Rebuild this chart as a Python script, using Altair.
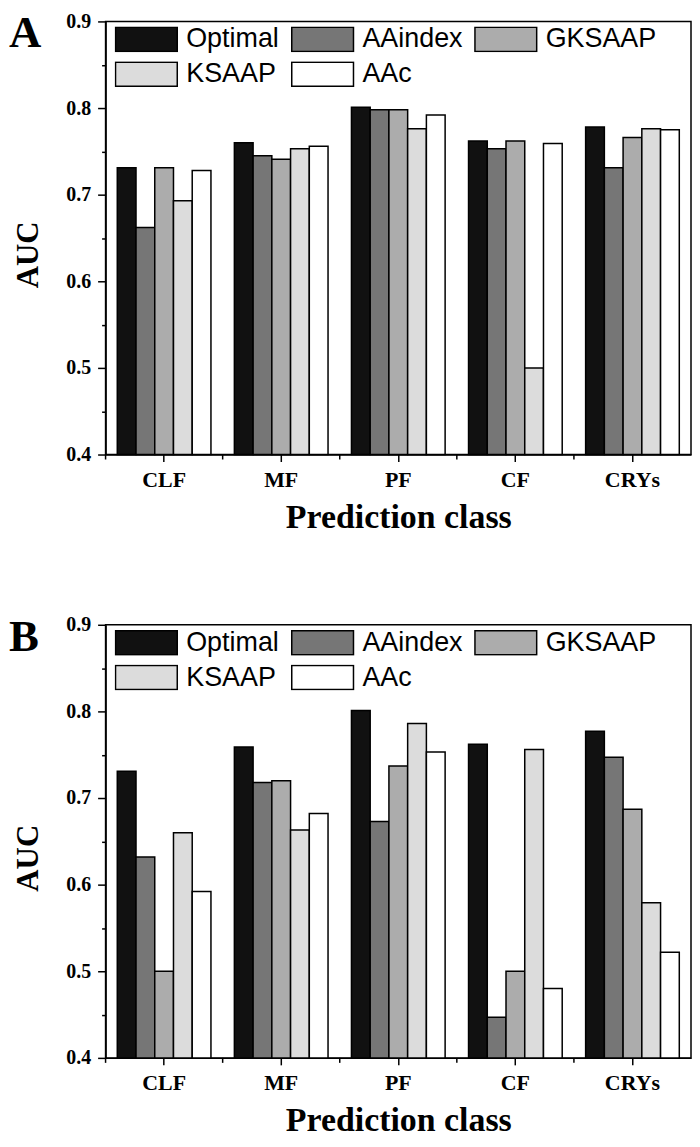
import altair as alt
import pandas as pd

classes = ["CLF", "MF", "PF", "CF", "CRYs"]
methods = ["Optimal", "AAindex", "GKSAAP", "KSAAP", "AAc"]
colors = ["#111111", "#767676", "#acacac", "#dcdcdc", "#ffffff"]

# Panel A values (per method, in class order)
a_optimal = [0.731, 0.760, 0.801, 0.762, 0.778]
a_aaindex = [0.662, 0.745, 0.798, 0.753, 0.731]
a_gksaap = [0.731, 0.741, 0.798, 0.762, 0.766]
a_ksaap = [0.693, 0.753, 0.776, 0.500, 0.776]
a_aac = [0.728, 0.756, 0.792, 0.759, 0.775]

# Panel B values
b_optimal = [0.731, 0.759, 0.801, 0.762, 0.777]
b_aaindex = [0.632, 0.718, 0.673, 0.447, 0.747]
b_gksaap = [0.500, 0.720, 0.737, 0.500, 0.687]
b_ksaap = [0.660, 0.663, 0.786, 0.756, 0.579]
b_aac = [0.592, 0.682, 0.753, 0.480, 0.522]

y_tick_values = [0.4, 0.45, 0.5, 0.55, 0.6, 0.65, 0.7, 0.75, 0.8, 0.85, 0.9]
panel_letters = ["A", "B"]

W, H = 588, 435
SERIF = "Liberation Serif"
SANS = "Liberation Sans"
MAJOR = "abs(datum.value*10 - round(datum.value*10)) < 0.001"


def make_df(series_list):
    rows = []
    for m, series in zip(methods, series_list):
        for c, v in zip(classes, series):
            rows.append({"cls": c, "method": m, "auc": v})
    return pd.DataFrame(rows)


def panel(series_list, letter):
    df = make_df(series_list)
    x_axis = alt.Axis(
        title="Prediction class", labelAngle=0, labelFontSize=22, titleFontSize=34,
        tickSize=7, labelPadding=8, titlePadding=10,
    )
    x_scale = alt.Scale(paddingInner=0, paddingOuter=0)
    bars = alt.Chart(df).mark_bar(stroke="black", strokeWidth=1.5).encode(
        x=alt.X("cls:N", sort=classes, scale=x_scale, axis=x_axis),
        xOffset=alt.XOffset("method:N", sort=methods,
                            scale=alt.Scale(paddingInner=0, paddingOuter=0.625)),
        y=alt.Y("auc:Q", scale=alt.Scale(domain=[0.4, 0.9], zero=False, nice=False),
                axis=alt.Axis(
                    title="AUC", values=y_tick_values,
                    labelExpr=MAJOR + " ? format(datum.value, '.1f') : ''",
                    tickSize={"condition": {"test": MAJOR, "value": 8}, "value": 4},
                    labelFontSize=20, labelPadding=7, titleFontSize=31,
                    titleX=-77, titleY=234, titleBaseline="middle",
                )),
        y2=alt.datum(0.4),
        color=alt.Color("method:N", sort=methods,
                        scale=alt.Scale(domain=methods, range=colors),
                        legend=alt.Legend(
                            title=None, orient="none", legendX=9, legendY=5, columns=3,
                            direction="horizontal",
                            symbolType="M-1,-0.39H1V0.39H-1Z", symbolSize=3844,
                            symbolStrokeColor="black", symbolStrokeWidth=1.5, symbolOpacity=1,
                            labelFont=SANS, labelFontSize=27, labelColor="black",
                            labelOffset=8, columnPadding=11, rowPadding=8, clipHeight=26,
                            padding=0, labelLimit=300,
                        )),
    )
    minor = alt.Chart(pd.DataFrame({"cls": classes})).mark_rule(
        color="black", strokeWidth=1.5
    ).encode(
        x=alt.X("cls:N", sort=classes, bandPosition=0, scale=x_scale, axis=x_axis),
        y=alt.value(H), y2=alt.value(H + 5),
    )
    tag = alt.Chart(pd.DataFrame({"tag": [letter]})).mark_text(
        font=SERIF, fontWeight="bold", fontSize=45, align="left", baseline="alphabetic",
        color="black",
    ).encode(text="tag:N", x=alt.value(-97), y=alt.value(26))
    return alt.layer(bars, minor, tag).properties(width=W, height=H)


chart = alt.vconcat(
    panel([a_optimal, a_aaindex, a_gksaap, a_ksaap, a_aac], panel_letters[0]),
    panel([b_optimal, b_aaindex, b_gksaap, b_ksaap, b_aac], panel_letters[1]),
    spacing=79,
).resolve_legend(color="independent").properties(padding=0).configure_view(
    stroke="black", strokeWidth=1.5
).configure_axis(
    domainColor="black", domainWidth=1.5, tickColor="black", tickWidth=1.5,
    labelFont=SERIF, labelFontWeight="bold", labelColor="black",
    titleFont=SERIF, titleFontWeight="bold", titleColor="black", grid=False,
)

chart.save("out.html", embed_options={"renderer": "svg", "actions": False})
